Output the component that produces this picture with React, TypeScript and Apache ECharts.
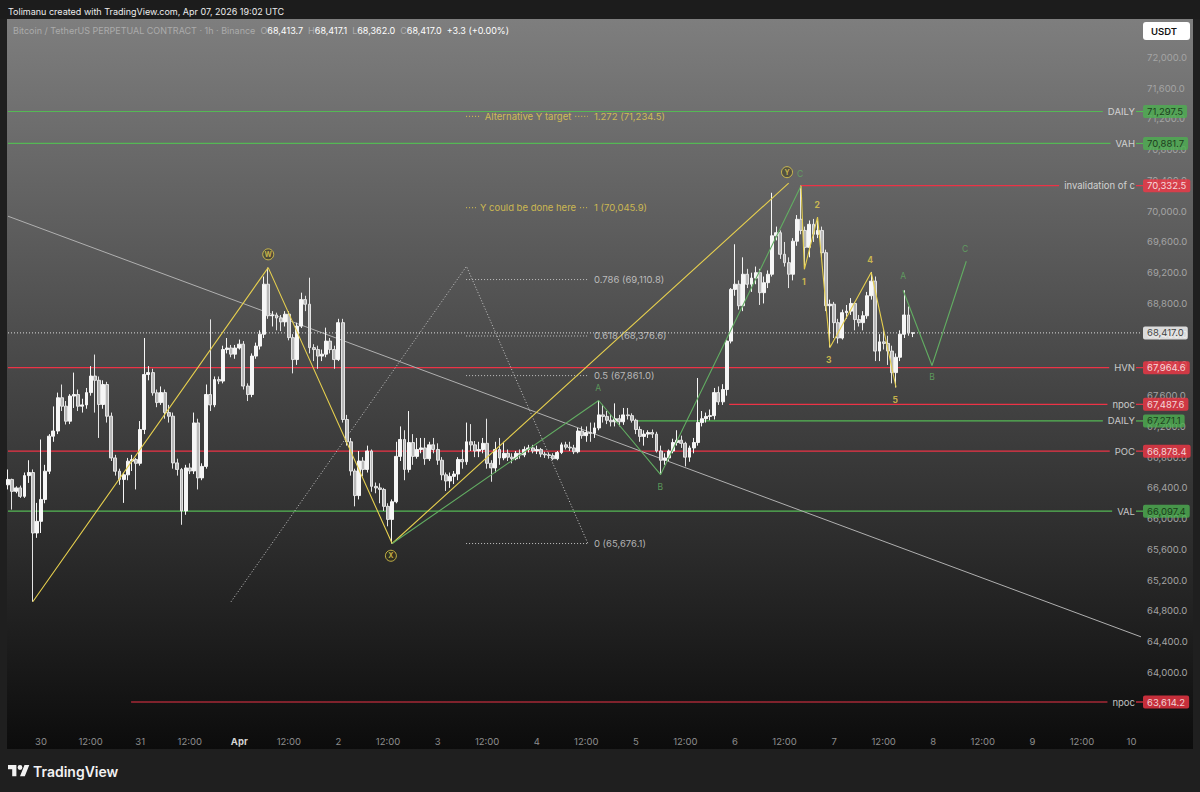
import React, { useEffect, useRef } from "react";
import * as echarts from "echarts";

// ---------- DATA ----------
// hour index: 0 = Mar 30 00:00 (1h candles). First candle at hour -8.
const FIRST_HOUR = -8;
// [open, close, low, high]
const candles: number[][] = [
  [66440,66510,66380,66640],[66510,66355,66118,66520],[66355,66400,66330,66420],[66400,66290,66270,66430],
  [66290,66560,66270,66600],[66560,66600,66465,66760],[66600,65813,64919,66640],[65813,65965,65750,66205],
  [65965,66250,65813,67030],[66250,66617,66200,66700],[66617,67073,66580,67100],[67073,67140,67000,67460],
  [67140,67573,67100,67640],[67573,67463,67400,67745],[67463,67268,67225,67530],[67268,67595,67230,67620],
  [67595,67615,67440,67900],[67615,67463,67400,67680],[67463,67480,67380,67560],[67480,67640,67430,67700],
  [67640,67855,67600,67985],[67855,67800,67380,68135],[67800,67485,67050,67850],[67485,67745,67430,67800],
  [67745,67333,67250,67780],[67333,66790,66750,67380],[66790,66617,66560,66830],[66617,66510,66440,66650],
  [66510,66570,66205,66600],[66570,66748,66500,66790],[66748,66770,66620,66830],[66770,66720,66380,66790],
  [66720,67160,66690,67270],[67160,67875,67100,68350],[67875,67900,67800,67985],[67900,67637,67600,67950],
  [67637,67510,67450,67680],[67510,67640,67480,67720],[67640,67380,67300,67680],[67380,67333,67250,67480],
  [67333,66725,66650,67380],[66725,66640,66560,66780],[66640,66100,65920,66660],[66100,66660,66050,66700],
  [66660,66620,66580,66720],[66620,67245,66580,67380],[67245,66530,66380,67300],[66530,66680,66500,66720],
  [66680,67615,66650,67745],[67615,67480,67400,68593],[67480,67810,67450,67850],[67810,67790,67750,67850],
  [67790,68200,67760,68250],[68200,68220,68150,68350],[68220,68140,68100,68260],[68140,68220,68080,68260],
  [68220,68270,68200,68330],[68270,67725,67680,68310],[67725,67615,67530,67760],[67615,68115,67580,68150],
  [68115,68245,68080,68290],[68245,68400,68200,68450],[68400,69050,68350,69150],[69050,68640,68600,69266],
  [68640,68650,68500,68700],[68650,68610,68450,68680],[68610,68560,68440,68650],[68560,68660,68500,68700],
  [68660,68355,68320,68700],[68355,68070,67890,68400],[68070,68505,68000,68550],[68505,68850,68480,68940],
  [68850,68790,68700,68900],[68790,68225,68150,69135],[68225,68200,68050,68270],[68200,68115,67950,68250],
  [68115,68140,68050,68200],[68140,68310,68100,68485],[68310,68200,68150,68350],[68200,68070,67950,68250],
  [68070,68550,68050,68600],[68550,67290,67250,68600],[67290,67000,66950,67350],[67000,66620,66560,67050],
  [66620,66300,66160,66650],[66300,66750,66250,66880],[66750,66640,66550,66800],[66640,66880,66600,66950],
  [66880,66420,66350,66900],[66420,66400,66330,66470],[66400,66380,66200,66460],[66380,66160,66100,66400],
  [66160,65990,65900,66200],[65990,66220,65676,66250],[66220,66810,66200,67000],[66810,67030,66750,67200],
  [67030,66640,66500,67150],[66640,66990,66600,67400],[66990,66810,66700,67100],[66810,66900,66780,67050],
  [66900,66920,66850,67050],[66920,66780,66700,67050],[66780,66960,66750,67000],[66960,66900,66850,67050],
  [66900,66760,66700,66980],[66760,66570,66500,66800],[66570,66490,66360,66600],[66490,66550,66400,66600],
  [66550,66580,66450,66620],[66580,66770,66500,66800],[66770,66740,66650,66900],[66740,67000,66700,67250],
  [67000,66960,66880,67230],[66960,66880,66800,67010],[66880,66900,66800,67000],[66900,66980,66850,67050],
  [66980,66720,66650,67300],[66720,66660,66480,66760],[66660,66900,66600,67000],[66900,66790,66700,67050],
  [66790,66850,66760,67000],[66850,66800,66750,66900],[66800,66780,66720,66850],[66780,66850,66760,66880],
  [66850,66830,66780,66900],[66830,66900,66800,66940],[66900,66920,66860,66960],[66920,66880,66850,66960],
  [66880,66900,66840,66950],[66900,66840,66800,66920],[66840,66830,66790,66870],[66830,66820,66780,66860],
  [66820,66780,66760,66850],[66780,66860,66760,66880],[66860,66960,66840,66990],[66960,66930,66900,67000],
  [66930,66920,66880,67000],[66920,66870,66840,66960],[66870,67140,66850,67180],[67140,67080,67040,67200],
  [67080,67120,67000,67200],[67120,67110,67000,67250],[67110,67180,67050,67250],[67180,67350,67150,67537],
  [67350,67330,67250,67480],[67330,67280,67230,67400],[67280,67260,67200,67360],[67260,67300,67200,67500],
  [67300,67260,67200,67350],[67260,67350,67220,67440],[67350,67340,67290,67440],[67340,67280,67250,67370],
  [67280,67160,67100,67300],[67160,67070,67000,67200],[67070,67100,66950,67150],[67100,67120,67050,67150],
  [67120,67100,67050,67160],[67100,66880,66860,67130],[66880,66760,66573,66950],[66760,66790,66700,66850],
  [66790,66880,66750,66900],[66880,66990,66850,67040],[66990,67020,66950,67150],[67020,66980,66920,67080],
  [66980,66800,66680,67000],[66800,66920,66740,66950],[66920,66990,66850,67050],[66990,67250,66950,67830],
  [67250,67300,67200,67400],[67300,67330,67250,67380],[67330,67340,67280,67420],[67340,67640,67290,67700],
  [67640,67520,67480,67720],[67520,67680,67480,67750],[67680,68310,67600,68330],[68310,68983,68280,69000],
  [68983,69050,68900,69570],[69050,68770,68720,69100],[68770,69180,68700,69400],[69180,69050,69000,69250],
  [69050,69130,68950,69200],[69130,69200,69050,69280],[69200,68940,68780,69250],[68940,69070,68800,69150],
  [69070,69180,69000,69230],[69180,69680,69150,70240],[69680,69720,69620,69800],[69720,69440,69380,69750],
  [69440,69330,69280,69600],[69330,69180,69000,69400],[69180,69610,69100,69650],[69610,69895,69550,69950],
  [69895,69750,69700,70332],[69750,69530,69250,69800],[69530,69830,69400,69880],[69830,69700,69600,69900],
  [69700,69750,69650,69920],[69750,69460,69400,69800],[69460,68770,68700,69500],[68770,68790,68228,68850],
  [68790,68550,68350,68820],[68550,68350,68280,68600],[68350,68680,68330,68720],[68680,68700,68600,68780],
  [68700,68800,68650,68870],[68800,68590,68450,68820],[68590,68550,68500,68650],[68550,68640,68450,68700],
  [68640,68900,68600,68950],[68900,69090,68850,69210],[69090,68180,68050,69150],[68180,68300,68050,68400],
  [68300,68280,68200,68450],[68280,68180,68000,68380],[68180,67900,67760,68250],[67900,68100,67707,68150],
  [68100,68400,68050,68450],[68400,68650,68350,68971],[68650,68413.7,68380,68760],[68413.7,68417.0,68362.0,68417.1],
];

const LAST_PRICE = 68417.0;

// axis ticks
const xTickHours = [0,12,24,36,48,60,72,84,96,108,120,132,144,156,168,180,192,204,216,228,240,252,264];
const dayTickLabels: Record<number, string> = {
  0: "30", 24: "31", 48: "Apr", 72: "2", 96: "3", 120: "4", 144: "5", 168: "6", 192: "7", 216: "8", 240: "9", 264: "10",
};
const priceTicks = [64000,64400,64800,65200,65600,66000,66400,66800,67200,67600,68000,68400,68800,69200,69600,70000,70400,70800,71200,71600,72000];

// horizontal levels
const levelNames = ["DAILY", "VAH", "invalidation of c", "HVN", "npoc", "DAILY", "POC", "VAL", "npoc"];
const levelValues = [71297.5, 70881.7, 70332.5, 67964.6, 67487.6, 67271.1, 66878.4, 66097.4, 63614.2];
const levelStartHours = [-8, -8, 183.8, -8, 166.6, 144, -8, -8, 21.8];
const levelKinds = ["green", "green", "red", "red", "red", "green", "red", "green", "red"];

// drawings (hour, price)
const wxyPath = [[-2, 64919], [55, 69266], [85, 65676.1], [181, 70365]];
const abcPath = [[85, 65676.1], [135, 67537], [150, 66573], [184, 70332.5]];
const impulsePath = [[184, 70332.5], [184.8, 69244], [188, 69922], [191, 68228], [201, 69205], [207, 67707]];
const projectionPath = [[208.7, 68971], [215.7, 67993], [224, 69349]];
const trendLine = [[-8, 69935], [266.3, 64462]];
const dottedSwing = [[46, 64919], [103, 69283], [132.4, 65676.1]];

// fib levels
const fibRatios = ["0", "0.5", "0.618", "0.786", "1", "1.272"];
const fibValues = [65676.1, 67861.0, 68376.6, 69110.8, 70045.9, 71234.5];
const fibNotes = ["", "", "", "", "Y could be done here", "Alternative Y target"];
const fibFromHour = 102.9;
const fibToHour = 132.4;
const fibNoteHour = 117.9;

// wave labels
const circledLabels = [
  { t: "W", h: 55, v: 69439 },
  { t: "X", h: 84.7, v: 65517 },
  { t: "Y", h: 180.6, v: 70508 },
];
const yellowLabels = [
  { t: "1", h: 184.7, v: 69075 },
  { t: "2", h: 187.9, v: 70078 },
  { t: "3", h: 190.7, v: 68058 },
  { t: "4", h: 200.7, v: 69361 },
  { t: "5", h: 206.8, v: 67550 },
];
const greenLabels = [
  { t: "A", h: 134.9, v: 67706 },
  { t: "B", h: 149.9, v: 66416 },
  { t: "C", h: 183.8, v: 70482 },
  { t: "A", h: 208.7, v: 69153 },
  { t: "B", h: 215.7, v: 67837 },
  { t: "C", h: 223.7, v: 69505 },
];

// ---------- STYLE ----------
const FONT = "Inter, 'Noto Sans', sans-serif";
const X_MIN = -8;
const X_MAX = 266.3;
const Y_MIN = 63380;
const Y_MAX = 72501;
const GRID = { left: 8, right: 59, top: 19, bottom: 72 };
const CHART_W = 1200;
const CHART_H = 792;
const RED = "#f23645";
const RED_LINE = "#ec3346";
const GREEN = "#4caf50";
const GREEN_LINE = "#55b855";
const YELLOW = "#e6cf4e";
const WAVE_GREEN = "#62ad62";

const fmtPrice = (v: number) =>
  v.toLocaleString("en-US", { minimumFractionDigits: 1, maximumFractionDigits: 1 });

function textWidth(s: string, font: string) {
  const ctx = document.createElement("canvas").getContext("2d")!;
  ctx.font = font;
  return ctx.measureText(s).width;
}

function buildOption() {
  const plotW = CHART_W - GRID.left - GRID.right;
  const pxPerHour = plotW / (X_MAX - X_MIN);
  const labelFont = `9.5px ${FONT}`;

  const series: any[] = [];

  // horizontal level lines
  levelValues.forEach((v, i) => {
    const w = textWidth(levelNames[i], labelFont);
    const endHour = X_MAX - (6 + w + 5) / pxPerHour;
    series.push({
      type: "line",
      silent: true,
      symbol: "none",
      z: 3,
      lineStyle: { color: levelKinds[i] === "red" ? RED_LINE : GREEN_LINE, width: 1.2 },
      data: [[levelStartHours[i], v], [endHour, v]],
    });
    // short link between the level name and its price tag
    series.push({
      type: "line",
      silent: true,
      symbol: "none",
      z: 3,
      clip: false,
      lineStyle: { color: levelKinds[i] === "red" ? RED_LINE : GREEN_LINE, width: 1.2 },
      data: [[X_MAX - 5 / pxPerHour, v], [X_MAX + 2 / pxPerHour, v]],
    });
  });

  // trend line
  series.push({
    type: "line", silent: true, symbol: "none", z: 3,
    lineStyle: { color: "#b0b0b0", width: 1 },
    data: trendLine,
  });

  // dotted swing copy
  series.push({
    type: "line", silent: true, symbol: "none", z: 3,
    lineStyle: { color: "#c8c8c8", width: 1, type: [1, 2] },
    data: dottedSwing,
  });

  // fib dotted segments + notes
  fibValues.forEach((v, i) => {
    const yellow = fibNotes[i] !== "";
    const color = yellow ? "#dcc64e" : "#c2c2c2";
    if (fibNotes[i]) {
      const half = (textWidth(fibNotes[i], labelFont) / 2 + 4) / pxPerHour;
      series.push({
        type: "line", silent: true, symbol: "none", z: 3,
        lineStyle: { color, width: 1, type: [1, 2] },
        data: [[fibFromHour, v], [fibNoteHour - half, v]],
      });
      series.push({
        type: "line", silent: true, symbol: "none", z: 3,
        lineStyle: { color, width: 1, type: [1, 2] },
        data: [[fibNoteHour + half, v], [fibToHour, v]],
      });
    } else {
      series.push({
        type: "line", silent: true, symbol: "none", z: 3,
        lineStyle: { color, width: 1, type: [1, 2] },
        data: [[fibFromHour, v], [fibToHour, v]],
      });
    }
  });

  // fib labels
  series.push({
    type: "scatter", silent: true, symbolSize: 0, z: 6, clip: false,
    data: fibValues.map((v, i) => ({
      value: [fibToHour, v],
      label: {
        show: true, position: "right", distance: 6,
        formatter: `${fibRatios[i]} (${fmtPrice(v)})`,
        color: fibNotes[i] ? YELLOW : "#d6d6d6",
        fontSize: 9.5, fontFamily: FONT,
      },
    })),
  });
  series.push({
    type: "scatter", silent: true, symbolSize: 0, z: 6,
    data: fibValues
      .map((v, i) => ({ v, i }))
      .filter((o) => fibNotes[o.i])
      .map((o) => ({
        value: [fibNoteHour, o.v],
        label: {
          show: true, position: "inside", formatter: fibNotes[o.i],
          color: YELLOW, fontSize: 9.5, fontFamily: FONT,
        },
      })),
  });

  // last price dotted line
  series.push({
    type: "line", silent: true, symbol: "none", z: 3,
    lineStyle: { color: "#dadada", width: 1, type: [1, 2] },
    data: [[X_MIN, LAST_PRICE], [X_MAX, LAST_PRICE]],
  });

  // candles
  series.push({
    type: "candlestick",
    silent: true,
    z: 4,
    barWidth: 3.4,
    encode: { x: 0, y: [1, 2, 3, 4] },
    itemStyle: {
      color: "#f6f6f6",
      color0: "#b8b8b8",
      borderColor: "#f6f6f6",
      borderColor0: "#e4e4e4",
      borderWidth: 1,
    },
    data: candles.map((c, i) => [FIRST_HOUR + i, c[0], c[1], c[2], c[3]]),
  });

  // wave paths
  series.push({
    type: "line", silent: true, symbol: "none", z: 5,
    lineStyle: { color: YELLOW, width: 1.1 },
    data: wxyPath,
  });
  series.push({
    type: "line", silent: true, symbol: "none", z: 5,
    lineStyle: { color: WAVE_GREEN, width: 1.1 },
    data: abcPath,
  });
  series.push({
    type: "line", silent: true, symbol: "none", z: 5,
    lineStyle: { color: YELLOW, width: 1.1 },
    data: impulsePath,
  });
  series.push({
    type: "line", silent: true, symbol: "none", z: 5,
    lineStyle: { color: WAVE_GREEN, width: 1.1 },
    data: projectionPath,
  });

  // wave labels
  series.push({
    type: "scatter", silent: true, z: 7, symbol: "circle", symbolSize: 11,
    itemStyle: { color: "rgba(60,55,20,0.55)", borderColor: YELLOW, borderWidth: 1 },
    label: { show: true, position: "inside", color: YELLOW, fontSize: 7, fontWeight: "bold", fontFamily: FONT, formatter: (p: any) => p.data.name },
    data: circledLabels.map((o) => ({ name: o.t, value: [o.h, o.v] })),
  });
  series.push({
    type: "scatter", silent: true, z: 7, symbolSize: 0,
    label: { show: true, position: "inside", color: YELLOW, fontSize: 8.5, fontWeight: "bold", fontFamily: FONT, formatter: (p: any) => p.data.name },
    data: yellowLabels.map((o) => ({ name: o.t, value: [o.h, o.v] })),
  });
  series.push({
    type: "scatter", silent: true, z: 7, symbolSize: 0,
    label: { show: true, position: "inside", color: WAVE_GREEN, fontSize: 8.5, fontFamily: FONT, formatter: (p: any) => p.data.name },
    data: greenLabels.map((o) => ({ name: o.t, value: [o.h, o.v] })),
  });

  // level names (left of the price scale)
  series.push({
    type: "scatter", silent: true, z: 8, symbolSize: 0, clip: false,
    data: levelValues.map((v, i) => ({
      value: [X_MAX, v],
      label: {
        show: true, position: "left", distance: 6, formatter: levelNames[i],
        color: "#ececec", fontSize: 9.5, fontFamily: FONT,
      },
    })),
  });

  // price badges
  const badgeData = levelValues.map((v, i) => ({
    value: [X_MAX, v],
    label: {
      show: true, position: "right", distance: 2, formatter: fmtPrice(v),
      color: levelKinds[i] === "red" ? "#ffffff" : "#0f220e",
      backgroundColor: levelKinds[i] === "red" ? RED : GREEN,
      padding: [2, 4, 1, 4], borderRadius: 2,
      fontSize: 9.5, fontFamily: FONT,
    },
  }));
  badgeData.push({
    value: [X_MAX, LAST_PRICE],
    label: {
      show: true, position: "right", distance: 2, formatter: fmtPrice(LAST_PRICE),
      color: "#111111", backgroundColor: "#ffffff",
      padding: [2, 4, 1, 4], borderRadius: 2, fontSize: 9.5, fontFamily: FONT,
    },
  });
  series.push({
    type: "scatter", silent: true, z: 20, zlevel: 1, symbolSize: 0, clip: false,
    data: badgeData,
  });

  const logoPath = "M14 22H7V11H0V4h14v18zM28 22h-8l7.5-18h8L28 22zM24 8a4 4 0 1 1-8 0a4 4 0 1 1 8 0z";
  try {
    echarts.graphic.registerShape("tvlogo", echarts.graphic.extendPath(logoPath, {}) as any);
  } catch (e) {}

  return {
    animation: false,
    backgroundColor: "#1f1f1f",
    grid: { ...GRID, containLabel: false },
    xAxis: {
      type: "value",
      min: X_MIN,
      max: X_MAX,
      axisLine: { show: false },
      axisTick: { show: false },
      splitLine: { show: false },
      axisLabel: {
        customValues: xTickHours,
        margin: 16,
        color: "#8e8e8e",
        fontSize: 9.5,
        fontFamily: FONT,
        formatter: (v: number) => {
          const d = dayTickLabels[v];
          if (d === "Apr") return "{b|Apr}";
          return d !== undefined ? d : "12:00";
        },
        rich: { b: { color: "#d4d4d4", fontWeight: "bold", fontSize: 9.5, fontFamily: FONT } },
      },
    },
    yAxis: {
      type: "value",
      position: "right",
      min: Y_MIN,
      max: Y_MAX,
      axisLine: { show: false },
      axisTick: { show: false },
      splitLine: { show: false },
      axisLabel: {
        customValues: priceTicks,
        margin: 6,
        color: "#a4a4a4",
        fontSize: 9.5,
        fontFamily: FONT,
        formatter: (v: number) => fmtPrice(v),
      },
    },
    graphic: {
      elements: [
        {
          type: "rect", z: -10, silent: true,
          shape: { x: 7, y: 19, width: 1186, height: 730 },
          style: {
            fill: new echarts.graphic.LinearGradient(0, 0, 0, 1, [
              { offset: 0, color: "#7e7e7e" },
              { offset: 1, color: "#0c0c0c" },
            ]),
          },
        },
        {
          type: "rect", z: -10, silent: true,
          shape: { x: 0, y: 0, width: 1200, height: 19 },
          style: { fill: "#1c1c1c" },
        },
        {
          type: "text", z: 50, x: 8, y: 11, silent: true,
          style: {
            text: "Tolimanu created with TradingView.com, Apr 07, 2026 19:02 UTC",
            fill: "#ececec", fontSize: 9, fontFamily: FONT, verticalAlign: "middle",
          },
        },
        {
          type: "text", z: 50, x: 13, y: 30, silent: true,
          style: {
            text:
              "{d|Bitcoin / TetherUS PERPETUAL CONTRACT · 1h · Binance}  {d|O}{v|68,413.7}  {d|H}{v|68,417.1}  {d|L}{v|68,362.0}  {d|C}{v|68,417.0}  {v|+3.3 (+0.00%)}",
            verticalAlign: "middle",
            fontSize: 9, fontFamily: FONT,
            rich: {
              d: { fill: "#ababab", fontSize: 9, fontFamily: FONT },
              v: { fill: "#ffffff", fontSize: 9, fontFamily: FONT },
            },
          },
        },
        {
          type: "rect", z: 50, silent: true,
          shape: { x: 1143, y: 22, width: 47, height: 18, r: 3 },
          style: { fill: "#ffffff" },
        },
        {
          type: "text", z: 51, x: 1151, y: 31, silent: true,
          style: { text: "USDT", fill: "#131313", fontSize: 9.5, fontWeight: 600, fontFamily: FONT, verticalAlign: "middle" },
        },
        {
          type: "tvlogo", z: 50, silent: true, x: 8, y: 762.5, scaleX: 0.6, scaleY: 0.62,
          style: { fill: "#f2f2f2" },
        },
        {
          type: "text", z: 50, x: 33, y: 771, silent: true,
          style: { text: "TradingView", fill: "#f2f2f2", fontSize: 14, fontWeight: 600, fontFamily: FONT, verticalAlign: "middle" },
        },
      ],
    },
    series,
  };
}

export default function App() {
  const ref = useRef<HTMLDivElement>(null);
  useEffect(() => {
    document.body.style.margin = "0";
    if (!ref.current) return;
    const chart = echarts.init(ref.current, null, { renderer: "svg", width: CHART_W, height: CHART_H });
    chart.setOption(buildOption() as any);
    return () => chart.dispose();
  }, []);
  return <div ref={ref} style={{ width: CHART_W, height: CHART_H, position: "absolute", left: 0, top: 0 }} />;
}
